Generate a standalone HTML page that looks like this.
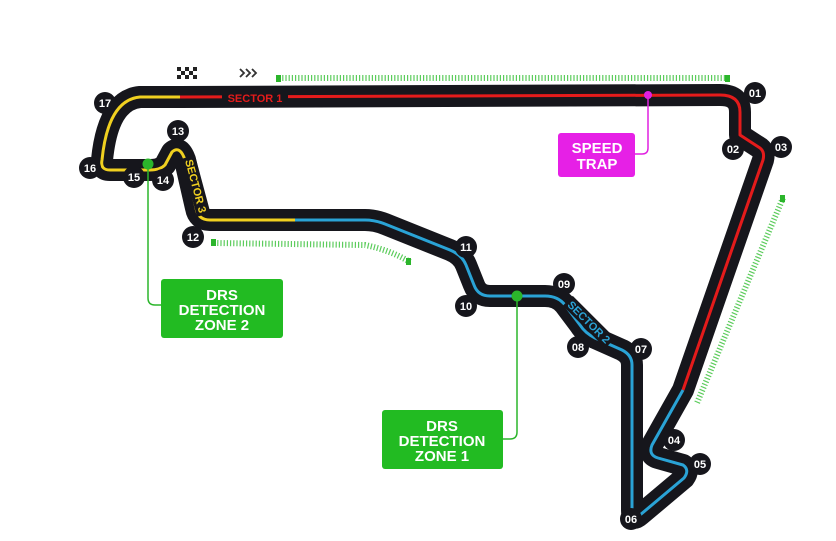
<!DOCTYPE html>
<html><head><meta charset="utf-8"><style>
html,body{margin:0;padding:0;background:#fff;}
svg{display:block;}
.t{font-family:"Liberation Sans",sans-serif;font-weight:bold;}
</style></head><body>
<svg width="836" height="541" viewBox="0 0 836 541" xmlns="http://www.w3.org/2000/svg">
<g fill="none" stroke="#5ccc5c">
<path d="M279,78 L728,78" stroke-width="6" stroke-dasharray="1.2 2"/>
<path d="M214,243 L365,245 Q390,250 410,262" stroke-width="6" stroke-dasharray="1.2 2"/>
<path d="M783,198 L697,403" stroke-width="6" stroke-dasharray="1.2 2"/>
</g>
<g fill="#2bb52b"><rect x="276" y="75" width="5" height="7"/><rect x="725" y="75" width="5" height="7"/><rect x="211" y="239" width="5" height="7"/><rect x="406" y="258" width="5" height="7"/><rect x="780" y="195" width="5" height="7"/></g>

<path d="M180,97 L720,95 Q740,95 740,112 L740,135 L760,148 Q765,152 763,160 L683,390 L652,445 Q648,455 658,458 L683,465 Q690,470 684,478 L640,515 Q632,522 632,510 L632,365 Q632,355 622,350 L595,338 Q585,333 580,325 L565,305 Q558,296 545,296 L490,296 Q478,296 474,285 L466,265 Q462,255 450,250 L385,224 Q375,220 365,220 L295,220 L210,220 Q198,220 196,208 L185,160 Q180,145 172,152 L165,165 Q160,170 150,170 L110,170 Q100,170 102,160 Q108,100 140,97 Z" fill="none" stroke="#16161c" stroke-width="22" stroke-linejoin="round"/>
<g fill="none" stroke-width="3" stroke-linejoin="round">
<path d="M180,97 L720,95 Q740,95 740,112 L740,135 L760,148 Q765,152 763,160 L683,390" stroke="#e41b1b"/>
<path d="M683,390 L652,445 Q648,455 658,458 L683,465 Q690,470 684,478 L640,515 Q632,522 632,510 L632,365 Q632,355 622,350 L595,338 Q585,333 580,325 L565,305 Q558,296 545,296 L490,296 Q478,296 474,285 L466,265 Q462,255 450,250 L385,224 Q375,220 365,220 L295,220" stroke="#2aa3d6"/>
<path d="M295,220 L210,220 Q198,220 196,208 L185,160 Q180,145 172,152 L165,165 Q160,170 150,170 L110,170 Q100,170 102,160 Q108,100 140,97 L180,97" stroke="#f0d020"/>
</g>
<rect x="222" y="90" width="66" height="14" fill="#16161c"/>
<text class="t" x="255" y="102" font-size="11" fill="#e41b1b" text-anchor="middle">SECTOR 1</text>
<g transform="translate(196,186) rotate(75)"><rect x="-30" y="-7" width="60" height="14" fill="#16161c"/><text class="t" x="0" y="4" font-size="11" fill="#f0d020" text-anchor="middle">SECTOR 3</text></g>
<g transform="translate(589,322) rotate(45)"><rect x="-30" y="-7" width="60" height="14" fill="#16161c"/><text class="t" x="0" y="4" font-size="11" fill="#2aa3d6" text-anchor="middle">SECTOR 2</text></g>

<g fill="#222">
<rect x="177" y="67" width="4" height="4"/><rect x="185" y="67" width="4" height="4"/><rect x="193" y="67" width="4" height="4"/>
<rect x="181" y="71" width="4" height="4"/><rect x="189" y="71" width="4" height="4"/>
<rect x="177" y="75" width="4" height="4"/><rect x="185" y="75" width="4" height="4"/><rect x="193" y="75" width="4" height="4"/>
</g>
<path d="M240,69 L244,73 L240,77 M246,69 L250,73 L246,77 M252,69 L256,73 L252,77" fill="none" stroke="#333" stroke-width="1.8"/>

<path d="M648,95 L648,148 Q648,154 642,154 L634,154" fill="none" stroke="#e020e0" stroke-width="1.5"/>
<circle cx="648" cy="95" r="4" fill="#e020e0"/>
<rect x="558" y="133" width="77" height="44" rx="3" fill="#e620e6"/>
<text class="t" x="597" y="153" font-size="15" fill="#fff" text-anchor="middle">SPEED</text>
<text class="t" x="597" y="169" font-size="15" fill="#fff" text-anchor="middle">TRAP</text>

<path d="M148,164 L148,298 Q148,305 155,305 L162,305" fill="none" stroke="#2bb52b" stroke-width="1.5"/>
<circle cx="148" cy="164" r="5.5" fill="#2bb52b"/>
<rect x="161" y="279" width="122" height="59" rx="3" fill="#22bb22"/>
<text class="t" x="222" y="300" font-size="15" fill="#fff" text-anchor="middle">DRS</text>
<text class="t" x="222" y="315" font-size="15" fill="#fff" text-anchor="middle">DETECTION</text>
<text class="t" x="222" y="330" font-size="15" fill="#fff" text-anchor="middle">ZONE 2</text>
<path d="M517,296 L517,432 Q517,439 510,439 L502,439" fill="none" stroke="#2bb52b" stroke-width="1.5"/>
<circle cx="517" cy="296" r="5.5" fill="#2bb52b"/>
<rect x="382" y="410" width="121" height="59" rx="3" fill="#22bb22"/>
<text class="t" x="442" y="431" font-size="15" fill="#fff" text-anchor="middle">DRS</text>
<text class="t" x="442" y="446" font-size="15" fill="#fff" text-anchor="middle">DETECTION</text>
<text class="t" x="442" y="461" font-size="15" fill="#fff" text-anchor="middle">ZONE 1</text>

<g class="t" font-size="11" text-anchor="middle">
<g fill="#16161c">
<circle cx="755" cy="93" r="11"/><circle cx="733" cy="149" r="11"/><circle cx="781" cy="147" r="11"/><circle cx="674" cy="440" r="11"/><circle cx="700" cy="464" r="11"/><circle cx="631" cy="519" r="11"/><circle cx="641" cy="349" r="11"/><circle cx="578" cy="347" r="11"/><circle cx="564" cy="284" r="11"/><circle cx="466" cy="306" r="11"/><circle cx="466" cy="247" r="11"/><circle cx="193" cy="237" r="11"/><circle cx="178" cy="131" r="11"/><circle cx="163" cy="180" r="11"/><circle cx="134" cy="177" r="11"/><circle cx="90" cy="168" r="11"/><circle cx="105" cy="103" r="11"/>
</g>
<g fill="#fff">
<text x="755" y="97">01</text><text x="733" y="153">02</text><text x="781" y="151">03</text><text x="674" y="444">04</text><text x="700" y="468">05</text><text x="631" y="523">06</text><text x="641" y="353">07</text><text x="578" y="351">08</text><text x="564" y="288">09</text><text x="466" y="310">10</text><text x="466" y="251">11</text><text x="193" y="241">12</text><text x="178" y="135">13</text><text x="163" y="184">14</text><text x="134" y="181">15</text><text x="90" y="172">16</text><text x="105" y="107">17</text>
</g>
</g>
</svg>
</body></html>
